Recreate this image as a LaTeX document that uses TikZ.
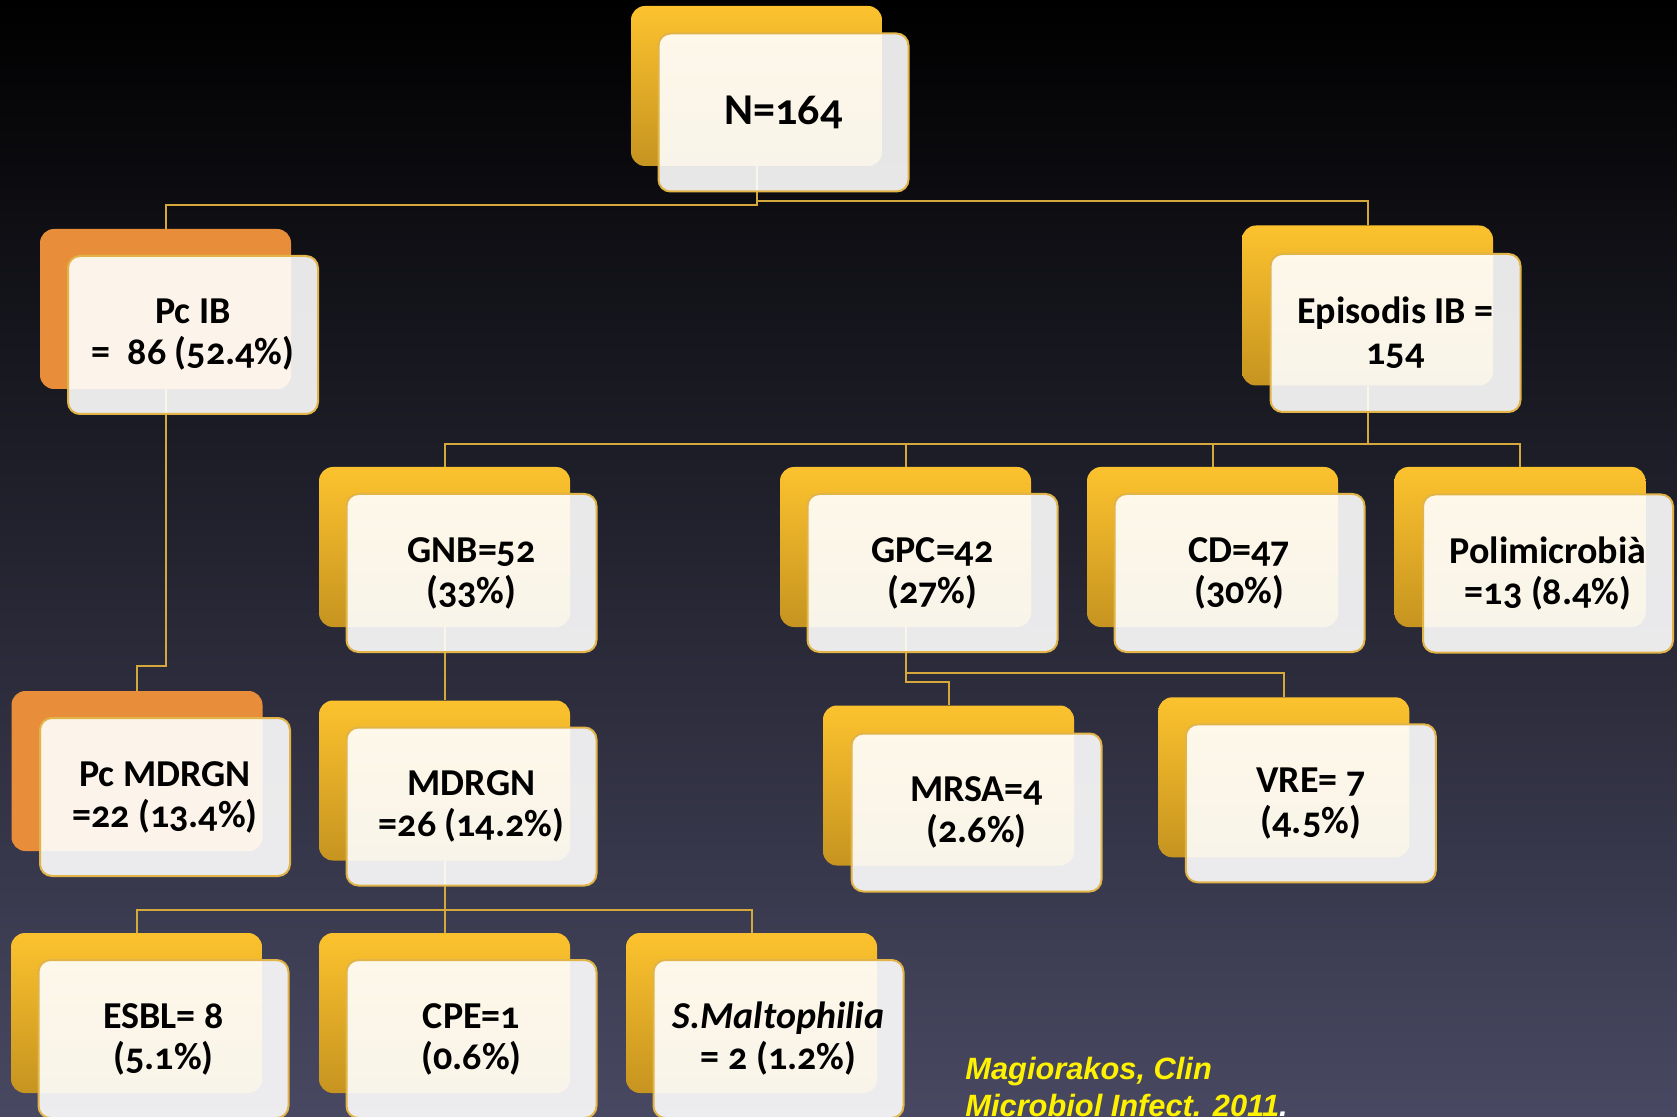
\documentclass[tikz,border=0pt]{standalone}
\usepackage{fontspec}
\setmainfont{Carlito}[Numbers=OldStyle]
\newfontfamily\citefont{Liberation Sans}
\usepackage{tikz}

\definecolor{linkgold}{RGB}{212,168,58}
\definecolor{edgegold}{RGB}{226,180,72}
\definecolor{ambertop}{RGB}{252,194,46}
\definecolor{amberbot}{RGB}{198,148,32}
\definecolor{pcorange}{RGB}{232,141,58}
\definecolor{bgmid}{RGB}{30,28,55}
\definecolor{bgbot}{RGB}{72,72,98}

\begin{document}
\begin{tikzpicture}[x=0.5pt,y=-0.5pt]
\tikzstyle{back}=[rectangle, rounded corners=7pt, minimum width=125.5pt, minimum height=80pt, inner sep=0pt, top color=ambertop, bottom color=amberbot]
\tikzstyle{backpc}=[rectangle, rounded corners=7pt, minimum width=125.5pt, minimum height=80pt, inner sep=0pt, fill=pcorange]
\tikzstyle{front}=[rectangle, rounded corners=6pt, minimum width=125pt, minimum height=79pt, inner sep=0pt, draw=edgegold, line width=1pt, fill=white, fill opacity=0.9, text opacity=1, align=center, font=\bfseries\fontsize{19}{20.5}\selectfont]
\tikzstyle{link}=[draw=linkgold, line width=1pt]
\shade[top color=black, middle color=bgmid, bottom color=bgbot] (0,0) rectangle (1677,1117);
\useasboundingbox (0,0) rectangle (1677,1117);
	% back boxes
	\node[back] (n_b) at (756.5,86) {};
	\node[backpc] (pcib_b) at (165.5,309) {};
	\node[back] (ep_b) at (1367.5,305.5) {};
	\node[back] (gnb_b) at (444.5,547) {};
	\node[back] (gpc_b) at (905.5,547) {};
	\node[back] (cd_b) at (1212.5,547) {};
	\node[back] (poli_b) at (1520,547) {};
	\node[backpc] (pcm_b) at (137,771) {};
	\node[back] (mdr_b) at (444.5,780.5) {};
	\node[back] (mrsa_b) at (948.5,785.5) {};
	\node[back] (vre_b) at (1283.8,777.3) {};
	\node[back] (esbl_b) at (136.5,1013) {};
	\node[back] (cpe_b) at (444.5,1013) {};
	\node[back] (smal_b) at (751.5,1013) {};

	% connectors
	\draw[link] (n_b.south) -- ++(0,39) -| (pcib_b.north);
	\draw[link] (n_b.south) -- ++(0,35) -| (ep_b.north);
	\draw[link] (pcib_b.south) -- ++(0,277) -| (pcm_b.north);
	\draw[link] (ep_b.south) -- ++(0,58) -| (gnb_b.north);
	\draw[link] (ep_b.south) -- ++(0,58) -| (gpc_b.north);
	\draw[link] (ep_b.south) -- ++(0,58) -| (cd_b.north);
	\draw[link] (ep_b.south) -- ++(0,58) -| (poli_b.north);
	\draw[link] (gnb_b.south) -- (mdr_b.north);
	\draw[link] (gpc_b.south) -- ++(0,46) -| (vre_b.north);
	\draw[link] (gpc_b.south) -- ++(0,55) -| (mrsa_b.north);
	\draw[link] (mdr_b.south) -- ++(0,49.5) -| (esbl_b.north);
	\draw[link] (mdr_b.south) -- ++(0,49.5) -| (cpe_b.north);
	\draw[link] (mdr_b.south) -- ++(0,49.5) -| (smal_b.north);

	% front boxes
	\node[front, font=\bfseries\fontsize{22}{24}\selectfont] (n) at (783.5,112.5) {N=164};
	\node[front] (pcib) at (193,335) {Pc IB\\=\ \ 86 (52.4\%)};
	\node[front] (ep) at (1395.5,333) {Episodis IB =\\154};
	\node[front] (gnb) at (471.5,573) {GNB=52\\(33\%)};
	\node[front] (gpc) at (932.5,573) {GPC=42\\(27\%)};
	\node[front] (cd) at (1239.5,573) {CD=47\\(30\%)};
	\node[front] (poli) at (1548,573.5) {Polimicrobià\\=13 (8.4\%)};
	\node[front] (pcm) at (165,797) {Pc MDRGN\\=22 (13.4\%)};
	\node[front] (mdr) at (471.5,806.5) {MDRGN\\=26 (14.2\%)};
	\node[front] (mrsa) at (976.5,812.5) {MRSA=4\\(2.6\%)};
	\node[front] (vre) at (1310.8,803.3) {VRE= 7\\(4.5\%)};
	\node[front] (esbl) at (163.5,1039) {ESBL= 8\\(5.1\%)};
	\node[front] (cpe) at (471.5,1039) {CPE=1\\(0.6\%)};
	\node[front] (smal) at (778.5,1039) {\textit{S.Maltophilia}\\= 2 (1.2\%)};

	\node[anchor=north west, inner sep=0pt, align=left, text=yellow, font=\citefont\bfseries\itshape\fontsize{15.4}{18.5}\selectfont] (cite) at (965,1057) {Magiorakos, Clin\\Microbiol Infect. 2011\textcolor{white}{.}};
\end{tikzpicture}
\end{document}
